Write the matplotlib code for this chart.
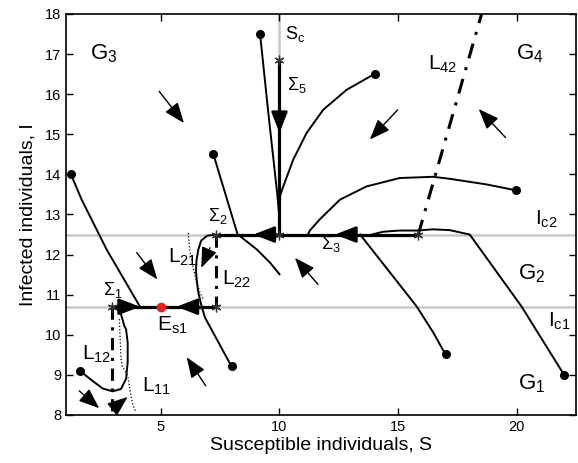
import matplotlib
matplotlib.use("Agg")
import matplotlib.pyplot as plt

plt.rcParams['font.family'] = ['Liberation Sans', 'DejaVu Sans']
plt.rcParams['mathtext.fontset'] = 'custom'
plt.rcParams['mathtext.rm'] = 'Liberation Sans'
plt.rcParams['mathtext.it'] = 'Liberation Sans'

## thresholds
s_c = 10
i_c1 = 10.7
i_c2 = 12.5

## trajectories (S, I), dot = start point
traj1_s = [1.21, 1.66, 2.71, 4.12]
traj1_i = [14.0, 13.37, 12.13, 10.7]
traj2_s = [9.18, 9.53, 9.9, 10.0]
traj2_i = [17.51, 15.53, 13.54, 12.9]
traj3_s = [7.21, 8.23, 9.04, 9.6, 10.0]
traj3_i = [14.51, 12.51, 12.13, 11.8, 11.51]
traj4_s = [14.02, 12.83, 11.84, 11.14, 10.58, 10.16, 10.02]
traj4_i = [16.51, 16.11, 15.61, 15.03, 14.37, 13.7, 13.46]
traj5_s = [19.99, 18.73, 17.18, 16.48, 15.07, 13.67, 12.55, 11.7, 11.28, 11.2]
traj5_i = [13.6, 13.75, 13.89, 13.94, 13.91, 13.7, 13.37, 12.88, 12.6, 12.5]
traj6_s = [22.0, 20.2, 18.02, 17.18, 16.48, 15.78, 15.07, 14.37, 14.09, 13.9]
traj6_i = [9.0, 10.71, 12.5, 12.61, 12.63, 12.6, 12.6, 12.57, 12.53, 12.5]
traj7_s = [17.0, 16.48, 15.78, 13.4]
traj7_i = [9.51, 10.06, 10.71, 12.5]
traj8_s = [7.98, 6.86, 6.72]
traj8_i = [9.21, 10.43, 10.7]
traj9_s = [1.59, 2.12, 2.55, 2.97, 3.32, 3.53, 3.6, 3.6, 3.53, 3.46, 3.32, 3.13, 2.95]
traj9_i = [9.1, 8.85, 8.66, 8.59, 8.65, 8.9, 9.31, 9.81, 10.14, 10.22, 10.51, 10.68, 10.72]
# curve leaving Sigma_2
sig2curve_s = [7.31, 6.95, 6.7, 6.58, 6.5, 6.48, 6.52, 6.58, 6.72]
sig2curve_i = [12.5, 12.47, 12.35, 12.13, 11.85, 11.59, 11.3, 11.05, 10.7]

## sliding segments and special points
slide_top_s = [7.31, 15.85]
slide_low_s = [2.95, 7.31]
slide_sc_i = [12.5, 16.85]
star_s = [2.95, 7.31, 7.31, 10.0, 10.0, 15.85]
star_i = [10.7, 12.5, 10.7, 12.5, 16.85, 12.5]
es1 = (5.0, 10.7)

## boundary lines L
l42_s = [15.85, 18.52]
l42_i = [12.5, 18.0]
l22_s = [7.31, 7.31]
l22_i = [12.5, 10.7]
l12_s = [2.95, 2.95]
l12_i = [10.7, 8.0]
l21_s = [6.15, 6.23, 6.44, 6.65, 6.79]
l21_i = [12.54, 12.05, 11.47, 11.05, 10.88]
l11_s = [3.25, 3.28, 3.32, 3.36, 3.6, 3.67, 3.74, 3.81, 3.95]
l11_i = [10.39, 9.93, 9.43, 9.23, 8.98, 8.73, 8.48, 8.27, 8.07]

## direction arrows: tail -> tip
arrows = [
    ((4.93, 16.07), (5.97, 15.28)),
    ((14.98, 15.61), (13.81, 14.87)),
    ((19.53, 14.92), (18.4, 15.63)),
    ((3.98, 12.05), (4.85, 11.38)),
    ((11.62, 11.26), (10.65, 11.92)),
    ((6.89, 8.73), (6.09, 9.44)),
    ((1.56, 8.6), (2.4, 8.17)),
    ((2.95, 8.14), (3.6, 8.45)),
    ((7.07, 12.17), (6.7, 11.67)),
]
# arrow heads on the sliding lines: tip, direction
slide_arrows = [
    ((8.9, 12.5), (1, 0)),
    ((12.34, 12.5), (1, 0)),
    ((4.12, 10.7), (-1, 0)),
    ((5.66, 10.7), (1, 0)),
    ((10.0, 15.03), (0, 1)),
]

## text labels: text, S, I, size
labels = [
    (r'$\mathrm{G_3}$', 2.01, 16.86, 16),
    (r'$\mathrm{G_4}$', 19.99, 16.86, 16),
    (r'$\mathrm{G_2}$', 20.05, 11.38, 16),
    (r'$\mathrm{G_1}$', 20.05, 8.65, 16),
    (r'$\mathrm{S_c}$', 10.23, 17.38, 13),
    (r'$\Sigma_5$', 10.3, 16.1, 13),
    (r'$\mathrm{L_{42}}$', 16.27, 16.6, 15),
    (r'$\mathrm{I_{c2}}$', 20.76, 12.75, 15),
    (r'$\mathrm{I_{c1}}$', 21.3, 10.2, 15),
    (r'$\Sigma_3$', 11.77, 12.13, 13),
    (r'$\Sigma_2$', 6.98, 12.83, 13),
    (r'$\mathrm{L_{21}}$', 5.3, 11.8, 15),
    (r'$\mathrm{L_{22}}$', 7.56, 11.26, 15),
    (r'$\Sigma_1$', 2.56, 11.0, 13),
    (r'$\mathrm{E_{s1}}$', 4.82, 10.09, 15),
    (r'$\mathrm{L_{12}}$', 1.66, 9.39, 15),
    (r'$\mathrm{L_{11}}$', 4.19, 8.57, 15),
]

fig = plt.figure(figsize=(5.78, 4.63), dpi=100)
ax = fig.add_axes([66/578, 48/463, 510/578, 401/463])

gray = '#c8c8c8'
ax.axhline(i_c2, color=gray, lw=1.8, zorder=1)
ax.axhline(i_c1, color=gray, lw=1.8, zorder=1)
ax.plot([s_c, s_c], [16.85, 18.0], color=gray, lw=1.8, zorder=1)

# trajectories
for s, i in [(traj1_s, traj1_i), (traj2_s, traj2_i), (traj3_s, traj3_i),
             (traj4_s, traj4_i), (traj5_s, traj5_i), (traj6_s, traj6_i),
             (traj7_s, traj7_i), (traj8_s, traj8_i), (traj9_s, traj9_i)]:
    ax.plot(s, i, color='k', lw=1.4, zorder=3)
    ax.plot(s[0], i[0], 'o', color='k', ms=5.5, zorder=4)
ax.plot(sig2curve_s, sig2curve_i, color='k', lw=1.4, zorder=3)

# sliding motion
ax.plot(slide_top_s, [i_c2, i_c2], color='k', lw=2.3, zorder=3)
ax.plot(slide_low_s, [i_c1, i_c1], color='k', lw=2.3, zorder=3)
ax.plot([s_c, s_c], slide_sc_i, color='k', lw=2.3, zorder=3)

# L lines
ax.plot(l42_s, l42_i, color='k', lw=2.2, dashes=[5, 3, 1, 3], zorder=2)
ax.plot(l22_s, l22_i, color='k', lw=2.2, dashes=[4, 2.5, 1, 2.5], zorder=2)
ax.plot(l12_s, l12_i, color='k', lw=2.2, dashes=[4, 2.5, 1, 2.5], zorder=2)
ax.plot(l21_s, l21_i, color='k', lw=0.9, ls=':', zorder=2)
ax.plot(l11_s, l11_i, color='k', lw=0.9, ls=':', zorder=2)

ax.plot(star_s, star_i, marker=(6, 2, 0), ls='none', color='#333333', ms=7, mew=0.9, zorder=5)
ax.plot(es1[0], es1[1], 'o', color='#e8231b', ms=6, zorder=6)

for tail, tip in arrows:
    ax.annotate('', xy=tip, xytext=tail,
                arrowprops=dict(arrowstyle='-|>,head_length=0.9,head_width=0.35',
                                color='k', lw=1.0, shrinkA=0, shrinkB=0, mutation_scale=14),
                zorder=6)
for tip, d in slide_arrows:
    tail = (tip[0] + 0.5 * d[0], tip[1] + 0.3 * d[1])
    ax.annotate('', xy=tip, xytext=tail,
                arrowprops=dict(arrowstyle='-|>,head_length=0.9,head_width=0.35',
                                color='k', lw=2.0, shrinkA=0, shrinkB=0, mutation_scale=14),
                zorder=6)

for txt, s, i, size in labels:
    ax.text(s, i, txt, fontsize=size, ha='left', va='baseline', zorder=7)

ax.set_xlim(1, 22.5)
ax.set_ylim(8, 18)
ax.set_xticks([5, 10, 15, 20])
ax.set_yticks(range(8, 19))
ax.tick_params(direction='in', top=True, right=True, labelsize=10.5, length=5, width=1)
for sp in ax.spines.values():
    sp.set_linewidth(1.2)

ax.set_xlabel('Susceptible individuals, S', fontsize=14, labelpad=2)
ax.set_ylabel('Infected individuals, I', fontsize=14, labelpad=6)

plt.savefig('out.png', dpi=100)
